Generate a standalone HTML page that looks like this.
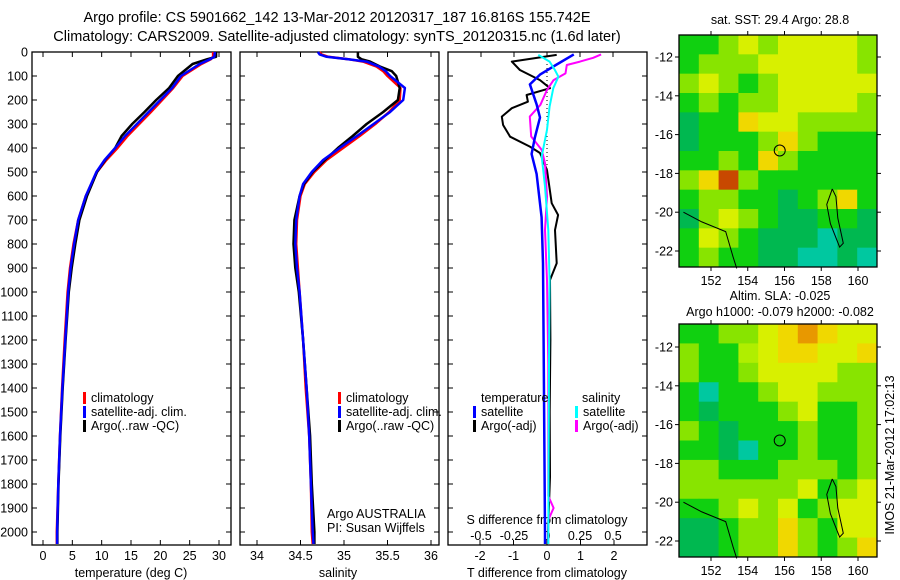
<!DOCTYPE html>
<html><head><meta charset="utf-8">
<style>
html,body{margin:0;padding:0;background:#fff;}
svg{display:block;font-family:"Liberation Sans",sans-serif;}
</style></head>
<body>
<svg id="fig" width="900" height="580" viewBox="0 0 900 580" xmlns="http://www.w3.org/2000/svg">
<rect width="900" height="580" fill="#fff"/>
<text x="337" y="22" font-size="14.5" text-anchor="middle">Argo profile: CS 5901662_142 13-Mar-2012 20120317_187 16.816S 155.742E</text>
<text x="337" y="41" font-size="14.5" text-anchor="middle">Climatology: CARS2009. Satellite-adjusted climatology: synTS_20120315.nc (1.6d later)</text>
<g id="g"></g>
</svg>
<script>
// ---- data ----
const tDepth = [0,20,30,50,100,150,200,250,300,350,400,450,500,600,700,800,900,1000,1200,1400,1600,1800,2000,2050];
const tSat   = [29.3,29.2,28.5,26.7,23.5,22,20,18,16,14,12.3,10.5,9.1,7.3,6.0,5.3,4.7,4.3,3.8,3.3,2.9,2.6,2.4,2.4];
const tClim  = [29.0,29.0,28.6,27.0,23.8,22.2,20.3,18.4,16.4,14.4,12.7,10.8,9.2,7.3,6.0,5.2,4.6,4.2,3.7,3.25,2.9,2.6,2.35,2.35];
const tArgo  = [29.5,29.5,28.0,25.5,23.0,21.5,19.3,17.3,15.2,13.4,12.3,10.6,9.2,7.5,6.2,5.5,4.9,4.4,3.85,3.35,2.95,2.65,2.45,2.45];
const sDepth = [0,10,20,30,40,60,80,100,150,200,250,300,350,400,450,500,550,600,700,800,900,1000,1200,1400,1600,1800,2000,2050];
const sSat   = [34.70,34.72,34.80,35.05,35.26,35.40,35.48,35.53,35.70,35.68,35.53,35.34,35.15,34.95,34.76,34.63,34.53,34.49,34.45,34.44,34.46,34.49,34.53,34.57,34.60,34.62,34.64,34.65];
const sClim  = [34.72,34.74,34.82,35.05,35.22,35.37,35.45,35.50,35.65,35.64,35.52,35.36,35.18,34.99,34.80,34.66,34.55,34.50,34.46,34.45,34.47,34.49,34.53,34.56,34.60,34.62,34.63,34.64];
const sArgo  = [35.16,35.16,35.16,35.20,35.30,35.41,35.55,35.60,35.64,35.62,35.45,35.26,35.10,34.93,34.78,34.64,34.54,34.49,34.43,34.42,34.44,34.48,34.53,34.57,34.61,34.63,34.66,34.66];
const dDepthTA = [12,40,75,117,151,179,207,234,269,304,353,394,421,492,630,679,742,880,950,1200,1500,1770,2000,2050];
const dTArgo   = [0.29,-1.05,-0.81,-0.21,0.09,-0.61,-0.57,-1.05,-1.35,-1.31,-1.1,-0.51,-0.21,0.0,0.14,0.33,0.24,0.29,0.09,0.1,0.08,0.09,0.03,0.03];
const dDepthTS = [10,52,94,135,218,273,356,425,508,689,880,1200,1600,2000,2050];
const dTSat    = [0.8,0.29,-0.21,-0.51,-0.31,-0.21,-0.36,-0.46,-0.31,-0.16,-0.12,-0.1,-0.08,-0.06,-0.06];
const dDepthSS = [12,40,75,103,151,227,324,435,560,742,950,1300,1700,2050];
const dSSat    = [-0.066,0.02,0.06,0.086,0.048,0.02,0.0,-0.04,-0.015,0.01,0.02,0.015,0.012,0.01];
const dDepthSA = [10,24,40,54,89,117,158,220,269,352,408,463,602,742,950,1300,1850,1900,1950,2050];
const dSArgo   = [0.41,0.35,0.25,0.15,0.14,0.05,0.0,-0.05,-0.13,-0.12,-0.04,-0.015,0.0,-0.015,0.0,0.01,0.01,0.05,0.01,0.01];
const depthTicks = [0,100,200,300,400,500,600,700,800,900,1000,1100,1200,1300,1400,1500,1600,1700,1800,1900,2000];
const tTicks = [0,5,10,15,20,25,30];
const sTicks = [34,34.5,35,35.5,36];
const sTickLabels = ["34","34.5","35","35.5","36"];
const dTTicks = [-2,-1,0,1,2];
const dSTicks = [-0.5,-0.25,0,0.25,0.5];
const dSTickLabels = ["-0.5","-0.25","0","0.25","0.5"];
const latTicks = [-12,-14,-16,-18,-20,-22];
const lonTicks = [152,154,156,158,160];
const sstGrid = [
"gglylyyyyl","glllyyyyyl","lylglyyyyy","glgllyyyyl","GggYyyllll","GggglYlggg",
"gglgYlgggg","lYrlgggggg","gllggGglYg","GlylgGGggG","gylgGGGtGG","glggGGttGt"];
const slaGrid = [
"gglly YoYyy".replace(" ",""),"lggIyYYyyY","lgglyyyyll","gtgglyylll","gGggglyggl","lgGggglggl",
"ggGtgglggl","llggglllgl","llllllygly","gglylygly y".replace(" ",""),"GGgllYlgyy","GGgllYlglY"];
// ---- helpers ----
const NS="http://www.w3.org/2000/svg";
const G=document.getElementById('g');
function mk(tag,attrs,parent){const e=document.createElementNS(NS,tag);for(const k in attrs)e.setAttribute(k,attrs[k]);(parent||G).appendChild(e);return e;}
const yTop=52, yScale=0.24;
function yD(d){return yTop+d*yScale;}
function linear(d0,d1,r0,r1){return v=>r0+(v-d0)*(r1-r0)/(d1-d0);}
const xT=linear(0,30,43,219), xS=linear(34,36,257,431), xDT=linear(-2,2,480,614), xDS=linear(-0.5,0.5,481,613);
function line(xs,ds,xf,color,name,w){
  const p=mk('polyline',{points:xs.map((v,i)=>xf(v).toFixed(1)+','+yD(ds[i]).toFixed(1)).join(' '),fill:'none',stroke:color,'stroke-width':w||2.5,'stroke-linejoin':'round'});
  
  
}
function txt(x,y,s,opts,name){const t=mk('text',Object.assign({x:x,y:y,'font-size':12.5},opts||{}));t.textContent=s;
  
  return t;}
function frame(x0,x1,name,yLabels){
  const r=mk('rect',{x:x0,y:52,width:x1-x0,height:493,fill:'none',stroke:'#000','stroke-width':1.3});
  
  
  depthTicks.forEach(d=>{mk('line',{x1:x0,x2:x0+5,y1:yD(d),y2:yD(d),stroke:'#000'});mk('line',{x1:x1-5,x2:x1,y1:yD(d),y2:yD(d),stroke:'#000'});
    if(yLabels)txt(28,yD(d)+4.5,String(d),{'text-anchor':'end'},'depth-tick-label');});
}
function xticks(vals,labels,xf,x0,x1,ly,name){vals.forEach((v,i)=>{const x=xf(v);mk('line',{x1:x,x2:x,y1:52,y2:57,stroke:'#000'});mk('line',{x1:x,x2:x,y1:540,y2:545,stroke:'#000'});
  txt(x,ly,labels[i],{'text-anchor':'middle'},name);});}
function legend(x,y,items){items.forEach((it,i)=>{mk('rect',{x:x,y:y+i*14-10,width:3,height:12,fill:it[0]});txt(x+8,y+i*14,it[1],{},'legend-entry');});}
// ---- panel 1 temperature ----
frame(32,231,'temperature-panel',true);
xticks(tTicks,tTicks.map(String),xT,32,231,560,'temperature-tick-label');
txt(131,577,'temperature (deg C)',{'text-anchor':'middle'},'temperature-axis-title');
line(tClim,tDepth,xT,'#f00','temperature-climatology-line');
line(tArgo,tDepth,xT,'#000','temperature-argo-line');
line(tSat,tDepth,xT,'#00f','temperature-satellite-line');
legend(83,402,[['#f00','climatology'],['#00f','satellite-adj. clim.'],['#000','Argo(..raw -QC)']]);
// ---- panel 2 salinity ----
frame(240,439,'salinity-panel',false);
xticks(sTicks,sTickLabels,xS,240,439,560,'salinity-tick-label');
txt(338,577,'salinity',{'text-anchor':'middle'},'salinity-axis-title');
line(sClim,sDepth,xS,'#f00','salinity-climatology-line');
line(sArgo,sDepth,xS,'#000','salinity-argo-line');
line(sSat,sDepth,xS,'#00f','salinity-satellite-line');
legend(338,402,[['#f00','climatology'],['#00f','satellite-adj. clim.'],['#000','Argo(..raw -QC)']]);
txt(327,518,'Argo AUSTRALIA',{},'agency-label');
txt(327,532,'PI: Susan Wijffels',{},'pi-label');
// ---- panel 3 differences ----
frame(448,647,'difference-panel',false);
dTTicks.forEach(v=>{const x=xDT(v);mk('line',{x1:x,x2:x,y1:540,y2:545,stroke:'#000'});txt(x,560,String(v),{'text-anchor':'middle'},'t-diff-tick-label');});
dSTicks.forEach(v=>{const x=xDS(v);mk('line',{x1:x,x2:x,y1:52,y2:57,stroke:'#000'});});
dSTicks.forEach((v,i)=>txt(xDS(v),540,dSTickLabels[i],{'text-anchor':'middle'},'s-diff-tick-label'));
txt(547,524,'S difference from climatology',{'text-anchor':'middle'},'s-diff-axis-title');
txt(547,577,'T difference from climatology',{'text-anchor':'middle'},'t-diff-axis-title');
mk('line',{x1:547,x2:547,y1:52,y2:170,stroke:'#000','stroke-dasharray':'1,3'});
line(dTArgo,dDepthTA,xDT,'#000','t-diff-argo-line',2);
line(dSArgo,dDepthSA,xDS,'#f0f','s-diff-argo-line',2);
line(dTSat,dDepthTS,xDT,'#00f','t-diff-satellite-line',2.5);
line(dSSat,dDepthSS,xDS,'#0ff','s-diff-satellite-line',2);
txt(481,402,'temperature',{},'legend-header-temperature');
txt(582,402,'salinity',{},'legend-header-salinity');
legend(473,416,[['#00f','satellite'],['#000','Argo(-adj)']]);
legend(575,416,[['#0ff','satellite'],['#f0f','Argo(-adj)']]);
// ---- maps ----
const pal={g:'#10d010',G:'#00b850',t:'#00c8a0',l:'#88e400',y:'#d8f000',Y:'#f0d800',o:'#e89800',r:'#c84800',I:'#b0ee00'};
function map(y0,y1,grid,name,latTickY0){
  const x0=679,x1=877,g=mk('g',{});
  
  
  const rows=grid.length,cols=grid[0].length,cw=(x1-x0)/cols,ch=(y1-y0)/rows;
  grid.forEach((row,r)=>{for(let c=0;c<cols;c++){mk('rect',{x:x0+c*cw,y:y0+r*ch,width:cw+0.5,height:ch+0.5,fill:pal[row[c]]||'#10d010'},g);}});
  const lon=linear(152,160,711,858), lat=linear(-12,-22,latTickY0,latTickY0+194);
  mk('circle',{cx:lon(155.74),cy:lat(-16.82),r:5.5,fill:'none',stroke:'#000','stroke-width':1},g);
  mk('polyline',{points:[[158.6,-18.8],[158.3,-19.6],[158.5,-20.6],[159.0,-21.8],[159.2,-21.6],[158.9,-20.3],[158.8,-19.2],[158.6,-18.8]].map(p=>lon(p[0])+','+lat(p[1])).join(' '),fill:'none',stroke:'#000','stroke-width':1},g);
  mk('polyline',{points:[[150.5,-20.0],[151.5,-20.5],[152.8,-21.0],[153.2,-22.3],[153.4,-22.9]].map(p=>lon(p[0])+','+lat(p[1])).join(' '),fill:'none',stroke:'#000','stroke-width':1},g);
  mk('rect',{x:x0,y:y0,width:x1-x0,height:y1-y0,fill:'none',stroke:'#000','stroke-width':1.3},g);
  lonTicks.forEach(v=>{const x=lon(v);mk('line',{x1:x,x2:x,y1:y0-4,y2:y0,stroke:'#000'},g);mk('line',{x1:x,x2:x,y1:y1,y2:y1+4,stroke:'#000'},g);txt(x,y1+18,String(v),{'text-anchor':'middle'},'map-lon-label');});
  latTicks.forEach(v=>{const y=lat(v);mk('line',{x1:x0-4,x2:x0,y1:y,y2:y,stroke:'#000'},g);mk('line',{x1:x1,x2:x1+4,y1:y,y2:y,stroke:'#000'},g);txt(673,y+4.5,String(v),{'text-anchor':'end'},'map-lat-label');});
}
map(35,267,sstGrid,'sst-map',57);
map(324,557,slaGrid,'sla-map',347);
txt(780,24,'sat. SST: 29.4 Argo: 28.8',{'text-anchor':'middle'},'sst-map-title');
txt(780,300,'Altim. SLA: -0.025',{'text-anchor':'middle'},'sla-map-title');
txt(780,316,'Argo h1000: -0.079 h2000: -0.082',{'text-anchor':'middle'},'sla-map-subtitle');
txt(894,455,'IMOS 21-Mar-2012 17:02:13',{'text-anchor':'middle',transform:'rotate(-90 894 455)'},'imos-timestamp');
</script>
</body></html>
